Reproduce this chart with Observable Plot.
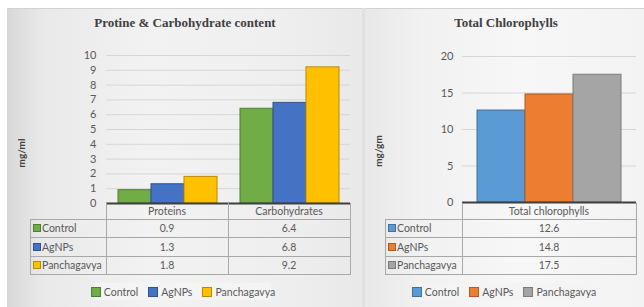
<!DOCTYPE html>
<html><head><meta charset="utf-8">
<script src="https://cdn.jsdelivr.net/npm/d3@7"></script>
<script src="https://cdn.jsdelivr.net/npm/@observablehq/plot@0.6"></script>
<style>
body{margin:0;width:644px;height:307px;overflow:hidden;background:#fff;position:relative;font-family:Lato,"Open Sans",sans-serif;color:#595959;}
.panel{position:absolute;top:8px;height:299px;border-top:1px solid #d2d2d2;box-sizing:border-box;}
.title{position:absolute;font-family:"Liberation Serif","Times New Roman",serif;font-weight:bold;font-size:13px;color:#404040;white-space:nowrap;transform:translate(-50%,-50%);}
.ylab{position:absolute;font-weight:bold;font-size:10px;color:#404040;white-space:nowrap;transform:translate(-50%,-50%) rotate(-90deg);}
.cell{position:absolute;box-sizing:border-box;font-size:10.5px;color:#595959;display:flex;align-items:center;white-space:nowrap;}
.hl{position:absolute;background:#a8a8a8;height:1px;}
.vl{position:absolute;background:#a8a8a8;width:1px;}
.sw{display:inline-block;width:6px;height:6px;border:1px solid;margin-right:1px;flex:none;}
.legend{position:absolute;height:17px;background:#f4f4f4;display:flex;align-items:center;justify-content:center;font-size:10.5px;color:#595959;white-space:nowrap;}
.legend span.item{display:flex;align-items:center;margin:0 5px;}
.legend .sw{width:8px;height:8px;margin-right:3px;}
</style></head><body>
<script>
// ---- Data ----
const categories = ["Proteins", "Carbohydrates"];
const series = ["Control", "AgNPs", "Panchagavya"];
const controlValues = [0.9, 6.4];
const agnpsValues = [1.3, 6.8];
const panchagavyaValues = [1.8, 9.2];
const leftTicks = [0, 1, 2, 3, 4, 5, 6, 7, 8, 9, 10];
const leftFill = ["#70AD47", "#4472C4", "#FFC000"];
const leftStroke = ["#4E7D31", "#2F528F", "#B98A00"];

const chlCategories = ["Total chlorophylls"];
const chlSeries = ["Control", "AgNPs", "Panchagavya"];
const chlValues = [12.6, 14.8, 17.5];
const rightTicks = [0, 5, 10, 15, 20];
const rightFill = ["#5B9BD5", "#ED7D31", "#A5A5A5"];
const rightStroke = ["#41719C", "#AE5A21", "#7B7B7B"];

const leftTitle = "Protine & Carbohydrate content";
const rightTitle = "Total Chlorophylls";
const leftUnit = "mg/ml";
const rightUnit = "mg/gm";

// ---- Helpers ----
const body = document.body;
function el(tag, cls, style, text) {
  const e = document.createElement(tag);
  if (cls) e.className = cls;
  Object.assign(e.style, style || {});
  if (text != null) e.textContent = text;
  body.appendChild(e);
  return e;
}
function px(v) { return v + "px"; }

// panels
el("div", "panel", {left: "7px", width: "355px", background: "linear-gradient(90deg,#d8d8d8 0%,#e9e9e9 10%,#f2f2f2 40%,#efefef 75%,#e9e9e9 100%)"});
el("div", "panel", {left: "362px", width: "3px", background: "#e0e0e0", borderTop: "none"});
el("div", "panel", {left: "365px", width: "279px", background: "linear-gradient(90deg,#e8e8e8 0%,#f1f1f1 20%,#f7f7f7 55%,#f3f3f3 100%)"});

const axisText = {fill: "#595959", fontSize: 11, fontFamily: "Lato, sans-serif"};

// ---- Left chart ----
const leftVals = [controlValues, agnpsValues, panchagavyaValues];
const leftRows = categories.flatMap((c, i) => series.map((s, j) => ({category: c, series: s, value: leftVals[j][i]})));
const fillMapL = Object.fromEntries(series.map((s, i) => [s, leftFill[i]]));
const strokeMapL = Object.fromEntries(series.map((s, i) => [s, leftStroke[i]]));

const leftPlot = Plot.plot({
  width: 362, height: 210,
  marginLeft: 106, marginRight: 12, marginTop: 55, marginBottom: 7,
  style: {background: "transparent", fontFamily: "Lato, sans-serif", fontSize: "11px", color: "#595959", overflow: "visible"},
  facet: {data: leftRows, x: "category", marginTop: 0, marginRight: 0, marginBottom: 0, marginLeft: 0},
  fx: {domain: categories, padding: 0, axis: null},
  x: {domain: series, paddingInner: 0, paddingOuter: 0.3, axis: null},
  y: {domain: [0, 10], axis: null},
  color: {type: "identity"},
  marks: [
    Plot.ruleY(leftTicks.slice(1), {stroke: "#d6d6d6", strokeWidth: 1}),
    Plot.barY(leftRows, {x: "series", y: "value", fill: d => fillMapL[d.series], stroke: d => strokeMapL[d.series], strokeWidth: 1}),
    Plot.ruleY([0], {stroke: "#3f3f3f", strokeWidth: 2})
  ]
});
Object.assign(leftPlot.style, {position: "absolute", left: "0px", top: "0px"});
body.appendChild(leftPlot);

// left y tick labels drawn with the same y scale geometry
const leftAxis = Plot.plot({
  width: 106, height: 210,
  marginLeft: 0, marginRight: 0, marginTop: 55, marginBottom: 7,
  style: {background: "transparent", overflow: "visible"},
  x: {axis: null}, y: {domain: [0, 10], axis: null},
  marks: [Plot.text(leftTicks, {y: d => d, text: d => String(d), frameAnchor: "right", dx: -10, textAnchor: "end", ...axisText})]
});
Object.assign(leftAxis.style, {position: "absolute", left: "0px", top: "0px"});
body.appendChild(leftAxis);

// ---- Right chart ----
const chlRows = chlSeries.map((s, i) => ({series: s, value: chlValues[i]}));
const fillMapR = Object.fromEntries(chlSeries.map((s, i) => [s, rightFill[i]]));
const strokeMapR = Object.fromEntries(chlSeries.map((s, i) => [s, rightStroke[i]]));
const rightPlot = Plot.plot({
  width: 279, height: 209,
  marginLeft: 97, marginRight: 8, marginTop: 56, marginBottom: 7,
  style: {background: "transparent", fontFamily: "Lato, sans-serif", fontSize: "11px", color: "#595959", overflow: "visible"},
  x: {domain: chlSeries, paddingInner: 0, paddingOuter: 0.31, axis: null},
  y: {domain: [0, 20], axis: null},
  color: {type: "identity"},
  marks: [
    Plot.ruleY(rightTicks.slice(1), {stroke: "#d6d6d6", strokeWidth: 1}),
    Plot.barY(chlRows, {x: "series", y: "value", fill: d => fillMapR[d.series], stroke: d => strokeMapR[d.series], strokeWidth: 1}),
    Plot.ruleY([0], {stroke: "#3f3f3f", strokeWidth: 2}),
    Plot.text(rightTicks, {y: d => d, text: d => String(d), frameAnchor: "left", dx: -9, textAnchor: "end", ...axisText})
  ]
});
Object.assign(rightPlot.style, {position: "absolute", left: "365px", top: "0px"});
body.appendChild(rightPlot);

// ---- Titles ----
el("div", "title", {left: "185px", top: "23px"}, leftTitle);
el("div", "title", {left: "506px", top: "23px"}, rightTitle);
el("div", "ylab", {left: "21px", top: "153px"}, leftUnit);
el("div", "ylab", {left: "378px", top: "151px"}, rightUnit);

// ---- Data tables ----
function table(cols, labelLeft, cats, ser, values, fills, strokes) {
  const rows = [203, 219, 237.5, 256, 274];
  const tableLeft = labelLeft;
  const dataLeft = cols[0][0];
  const right = cols[cols.length - 1][1];
  for (let r = 1; r < rows.length; r++) {
    el("div", "hl", {left: px(tableLeft), width: px(right - tableLeft + 1), top: px(rows[r] - 0.5)});
  }
  cols.forEach(([a]) => {
    el("div", "vl", {left: px(a - 0.5), top: px(rows[0]), height: px(rows[4] - rows[0])});
  });
  el("div", "vl", {left: px(right - 0.5), top: px(rows[0]), height: px(rows[4] - rows[0])});
  el("div", "vl", {left: px(tableLeft - 0.5), top: px(rows[1]), height: px(rows[4] - rows[1])});
  cats.forEach((c, i) => {
    el("div", "cell", {left: px(cols[i][0]), width: px(cols[i][1] - cols[i][0]), top: px(rows[0]), height: px(rows[1] - rows[0]), justifyContent: "center"}, c);
  });
  ser.forEach((s, j) => {
    const lab = el("div", "cell", {left: px(tableLeft + 3), width: px(dataLeft - tableLeft - 3), top: px(rows[j + 1]), height: px(rows[j + 2] - rows[j + 1])});
    const sw = document.createElement("span");
    sw.className = "sw";
    sw.style.background = fills[j];
    sw.style.borderColor = strokes[j];
    lab.appendChild(sw);
    lab.appendChild(document.createTextNode(s));
    cats.forEach((c, i) => {
      el("div", "cell", {left: px(cols[i][0]), width: px(cols[i][1] - cols[i][0]), top: px(rows[j + 1]), height: px(rows[j + 2] - rows[j + 1]), justifyContent: "center"}, String(values[j][i]));
    });
  });
}

const fxS = leftPlot.scale("fx");
const fxBand = d3.scaleBand(fxS.domain, fxS.range).padding(0);
const leftCols = categories.map(c => [fxBand(c), fxBand(c) + fxBand.bandwidth()]);
table(leftCols, 30, categories, series, leftVals, leftFill, leftStroke);

const rStart = 365 + 97, rEnd = 365 + 279 - 8;
table([[rStart, rEnd]], 385, chlCategories, chlSeries, chlValues.map(v => [v]), rightFill, rightStroke);

// ---- Legends ----
function legend(left, width, ser, fills, strokes) {
  const lg = el("div", "legend", {left: px(left), width: px(width), top: "283px"});
  ser.forEach((s, i) => {
    const it = document.createElement("span");
    it.className = "item";
    const sw = document.createElement("span");
    sw.className = "sw";
    sw.style.background = fills[i];
    sw.style.borderColor = strokes[i];
    it.appendChild(sw);
    it.appendChild(document.createTextNode(s));
    lg.appendChild(it);
  });
}
legend(95, 176, series, leftFill, leftStroke);
legend(416, 176, chlSeries, rightFill, rightStroke);
</script>
</body></html>
